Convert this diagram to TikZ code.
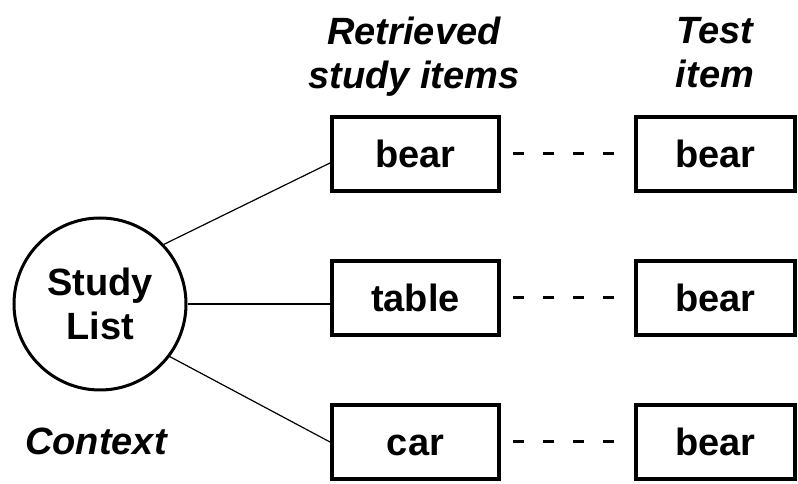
\documentclass[tikz,border=0pt]{standalone}
\usepackage{fontspec}
\setmainfont{Liberation Sans}
\usetikzlibrary{positioning, calc}

\begin{document}
\begin{tikzpicture}[x=1pt, y=1pt,
    font=\fontsize{38}{44}\selectfont\bfseries,
    itembox/.style={draw, line width=4pt, minimum width=167pt, minimum height=74pt,
                    inner sep=0pt, text height=27pt, text depth=0pt},
    testbox/.style={itembox, minimum width=159pt},
    link/.style={line width=1.2pt},
    gapline/.style={line width=3pt, dash pattern=on 11pt off 19pt},
    heading/.style={align=center, inner sep=0pt,
                    font=\fontsize{38}{44}\selectfont\bfseries\itshape}]
  \useasboundingbox (0,0) rectangle (798,484);

  % study list and its context
  \node[circle, draw, line width=3pt, minimum size=172pt, align=center, inner sep=0pt]
    (study) at (100,180) {Study\\List};
  \node[heading] (context) at (96,43) {Context};

  % retrieved study items
  \node[itembox] (ret1) at (415.5,330) {bear};
  \node[itembox, below=66pt of ret1] (ret2) {table};
  \node[itembox, below=66pt of ret2] (ret3) {car};

  % test items
  \node[testbox, right=133pt of ret1] (test1) {bear};
  \node[testbox, right=133pt of ret2] (test2) {bear};
  \node[testbox, right=133pt of ret3] (test3) {bear};

  % column headings
  \node[heading] (hdret) at (414,427) {Retrieved\\study items};
  \node[heading] (hdtest) at (715,431) {Test\\item};

  % links from the study list
  \draw[link] (study.43) -- ([yshift=-9pt]ret1.west);
  \draw[link] (study.east) -- (study.east -| ret2.west);
  \draw[link] (study.-37) -- (ret3.west);

  % matches
  \draw[gapline] ([xshift=12pt]ret1.east) -- ([xshift=-15pt]test1.west);
  \draw[gapline] ([xshift=12pt]ret2.east) -- ([xshift=-15pt]test2.west);
  \draw[gapline] ([xshift=12pt]ret3.east) -- ([xshift=-15pt]test3.west);
\end{tikzpicture}
\end{document}
